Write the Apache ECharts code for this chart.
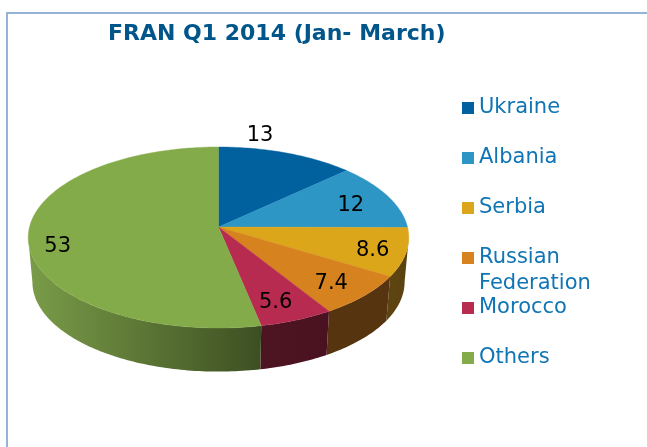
<!DOCTYPE html>
<html><head><meta charset="utf-8">
<style>html,body{margin:0;padding:0;background:#fff}#c{width:647px;height:447px}</style>
<script src="https://cdn.jsdelivr.net/npm/echarts@6/dist/echarts.min.js"></script>
</head><body><div id="c"></div>
<script>
const titleText = 'FRAN Q1 2014 (Jan- March)';
const categories = ['Ukraine', 'Albania', 'Serbia', 'Russian Federation', 'Morocco', 'Others'];
const values = [13, 12, 8.6, 7.4, 5.6, 53];
const labels = ['13', '12', '8.6', '7.4', '5.6', '53'];
const faceColors = ['#00619e', '#2e96c4', '#dca61a', '#d6821f', '#b62b4f', '#84ab4a'];
const wallStart = ['#003a5e', '#1b5a76', '#5e4510', '#55340f', '#4d1422', '#7a9c48'];
const wallEnd = ['#003a5e', '#1b5a76', '#5a4110', '#55340f', '#4a1220', '#3d4f22'];
// label nudges relative to the slice's mid-angle anchor, pixels
const labelNudge = [[-14, -31], [-4, 4], [5, 3], [-2, 3], [-4, 3], [-9, 12]];
const labelRadius = [0.8, 0.8, 0.8, 0.8, 0.8, 0.8];

const total = values.reduce((a, b) => a + b, 0);
const P = {cx: 218.5, apexY: 227, rx: 189, a: 62.95, c: -0.116, yMid: 237.5, depth: 44.5, shrinkX: 0.978, shrinkY: 0.99};
// rim angles where the perspective ellipse is widest: the wall's visible ends
const tangent = 90 + Math.asin(-P.c) * 180 / Math.PI;

function faceXY(u, v) {
  const d = 1 + P.c * v;
  return [P.cx + P.rx * u / d, (P.a * v + P.apexY) / d];
}
function low(p) {
  return [P.cx + (p[0] - P.cx) * P.shrinkX, P.yMid + P.depth + (p[1] - P.yMid) * P.shrinkY];
}
function rim(t, r) {
  const rad = t * Math.PI / 180, k = r === undefined ? 1 : r;
  return faceXY(k * Math.sin(rad), -k * Math.cos(rad));
}
function arcPts(t0, t1) {
  const pts = [], n = Math.max(2, Math.ceil(Math.abs(t1 - t0)));
  for (let i = 0; i <= n; i++) pts.push(rim(t0 + (t1 - t0) * i / n));
  return pts;
}
function render(idx) {
  return function (params, api) {
    const v = api.value(0);
    let before = 0;
    for (let i = 0; i < idx; i++) before += values[i];
    const t0 = before / total * 360, t1 = (before + v) / total * 360;
    const children = [];
    const w0 = Math.max(t0, tangent), w1 = Math.min(t1, 360 - tangent);
    if (w1 > w0) {
      const upper = arcPts(w0, w1);
      const lower = upper.map(low).reverse();
      children.push({
        type: 'polygon', z2: 1,
        shape: {points: upper.concat(lower)},
        style: {
          fill: {type: 'linear', x: 1, y: 0, x2: 0, y2: 0, colorStops: [
            {offset: 0, color: wallEnd[idx]}, {offset: 1, color: wallStart[idx]}]}
        }
      });
    }
    const fc = faceColors[idx];
    children.push({
      type: 'polygon', z2: 2,
      shape: {points: [faceXY(0, 0)].concat(arcPts(t0, t1))},
      style: {fill: fc, stroke: fc, lineWidth: 0.4}
    });
    const mid = (t0 + t1) / 2, p = rim(mid, labelRadius[idx]);
    children.push({
      type: 'text', z2: 3,
      style: {
        x: p[0] + labelNudge[idx][0], y: p[1] + labelNudge[idx][1],
        text: labels[idx], fill: '#000', font: '21px "DejaVu Sans"',
        align: 'center', verticalAlign: 'middle'
      }
    });
    return {type: 'group', children};
  };
}
const legendTops = [95, 145, 195, 219, 295, 345];
const chart = echarts.init(document.getElementById('c'), null, {renderer: 'canvas'});
chart.setOption({
  animation: false,
  backgroundColor: '#fff',
  title: {text: titleText, left: 103, top: 18, textStyle: {fontFamily: 'DejaVu Sans', fontSize: 22, fontWeight: 'bold', color: '#00558a'}},
  legend: categories.map((c, i) => ({
    data: [c], left: 462, top: legendTops[i], orient: 'vertical', icon: 'rect',
    itemWidth: 12, itemHeight: 12, itemGap: 0, padding: 0, selectedMode: false,
    // the leading blank line keeps the swatch level with the first word of a wrapped name
    formatter: n => n.indexOf(' ') > 0 ? '\n' + n.replace(' ', '\n') : n,
    textStyle: {fontFamily: 'DejaVu Sans', fontSize: 21, color: '#0f75b5', lineHeight: 26}
  })),
  graphic: [{type: 'rect', silent: true, z: -1, shape: {x: 7, y: 13, width: 800, height: 600}, style: {fill: 'none', stroke: '#95b3d7', lineWidth: 2}}],
  series: categories.map((c, i) => ({
    type: 'custom', name: c, coordinateSystem: 'none', silent: true,
    itemStyle: {color: faceColors[i]},
    data: [[values[i]]],
    renderItem: render(i)
  }))
});
</script></body></html>
